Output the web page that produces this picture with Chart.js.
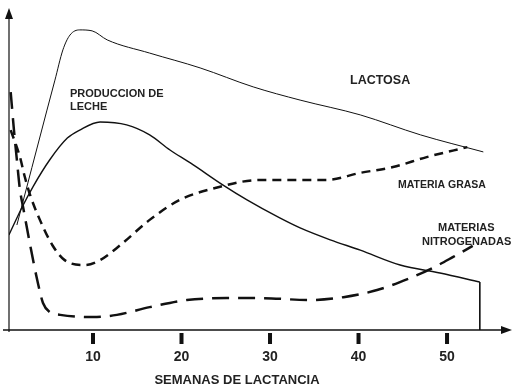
<!DOCTYPE html>
<html>
<head>
<meta charset="utf-8">
<script src="https://cdn.jsdelivr.net/npm/chart.js@4"></script>
<style>
  html, body { margin: 0; padding: 0; background: #fff; }
  #wrap { width: 526px; height: 391px; }
</style>
</head>
<body>
<div id="wrap"><canvas id="myChart" width="526" height="391"></canvas></div>
<script>
// semanas de lactancia / valores relativos (0-100)
const weeksLactosa = [1.4, 4.8, 5.7, 6.6, 7.4, 8.5, 9.9, 11.6, 16.4, 22.1, 28.1, 33.4, 40.2, 47.0, 54.1];
const lactosa      = [32.6, 68.3, 77.6, 87.0, 91.6, 93.2, 92.9, 90.1, 86.0, 81.4, 75.5, 71.4, 66.8, 60.6, 55.3];

const weeksLeche = [0.5, 2.0, 3.2, 5.1, 7.1, 8.5, 10.8, 13.8, 16.4, 18.7, 21.0, 24.7, 27.4, 31.1, 33.4, 36.8, 40.2, 44.7, 49.2, 53.7];
const leche      = [29.5, 38.2, 44.4, 52.8, 59.6, 62.1, 64.6, 63.7, 60.6, 55.9, 51.9, 45.0, 40.4, 34.8, 31.7, 28.0, 24.8, 20.2, 17.7, 14.9];

const weeksGrasa = [0.7, 1.75, 2.3, 2.9, 4.0, 5.4, 6.8, 9.1, 10.8, 13.1, 16.4, 19.8, 23.8, 28.9, 33.4, 36.4, 40.2, 43.9, 47.7, 52.3];
const grasa      = [62.1, 53.7, 47.5, 41.9, 34.2, 26.4, 21.7, 20.2, 21.7, 26.4, 34.2, 40.4, 44.1, 46.6, 46.6, 46.6, 48.8, 50.6, 53.7, 56.8];

const weeksNitro = [0.7, 1.07, 1.4, 1.75, 2.1, 2.9, 3.7, 4.35, 5.1, 6.3, 10.0, 12.7, 16.4, 20.6, 25.1, 28.9, 34.5, 38.3, 42.1, 45.8, 48.4, 50.7, 52.9];
const nitro      = [73.9, 62.1, 52.8, 43.5, 38.2, 26.4, 15.5, 8.4, 5.6, 4.7, 4.0, 4.7, 7.1, 9.3, 9.9, 9.9, 9.3, 10.2, 12.4, 16.1, 19.3, 22.7, 26.1];

// fin de la curva de leche (caída vertical)
const weeksCierre = [53.7, 53.7];
const cierre      = [14.9, 0];

const tickWeeks = [10, 20, 30, 40, 50];

const pts = (xs, ys) => xs.map((x, i) => ({ x: x, y: ys[i] }));

const ink = '#111';

const datasets = [
	{ label: 'LACTOSA', data: pts(weeksLactosa, lactosa), borderColor: ink, borderWidth: 1, cubicInterpolationMode: 'monotone' },
	{ label: 'PRODUCCION DE LECHE', data: pts(weeksLeche, leche), borderColor: ink, borderWidth: 1.4, cubicInterpolationMode: 'monotone' },
	{ label: 'MATERIA GRASA', data: pts(weeksGrasa, grasa), borderColor: ink, borderWidth: 2.5, borderDash: [9, 6], cubicInterpolationMode: 'monotone' },
	{ label: 'MATERIAS NITROGENADAS', data: pts(weeksNitro, nitro), borderColor: ink, borderWidth: 2.5, borderDash: [17, 9], cubicInterpolationMode: 'monotone' },
	{ label: 'cierre', data: pts(weeksCierre, cierre), borderColor: ink, borderWidth: 1, tension: 0 }
];

const decor = {
	id: 'decor',
	afterDraw(chart) {
		const c = chart.ctx;
		const a = chart.chartArea;
		const xs = chart.scales.x;
		c.save();
		c.strokeStyle = ink;
		c.fillStyle = ink;
		// eje y con flecha
		c.lineWidth = 1.2;
		c.beginPath();
		c.moveTo(a.left, a.bottom + 2);
		c.lineTo(a.left, a.top + 6);
		c.stroke();
		c.beginPath();
		c.moveTo(a.left, a.top);
		c.lineTo(a.left - 4, a.top + 11);
		c.lineTo(a.left + 4, a.top + 11);
		c.closePath();
		c.fill();
		// eje x con flecha
		c.lineWidth = 1.5;
		c.beginPath();
		c.moveTo(3, a.bottom);
		c.lineTo(a.right - 6, a.bottom);
		c.stroke();
		c.beginPath();
		c.moveTo(a.right, a.bottom);
		c.lineTo(a.right - 11, a.bottom - 4);
		c.lineTo(a.right - 11, a.bottom + 4);
		c.closePath();
		c.fill();
		// marcas
		tickWeeks.forEach(w => {
			const px = xs.getPixelForValue(w);
			c.fillRect(px - 2, a.bottom + 3, 4, 11);
		});
		// textos
		c.fillStyle = '#222';
		c.textBaseline = 'middle';
		c.textAlign = 'left';
		c.font = 'bold 11px "Liberation Sans", Arial, sans-serif';
		c.fillText('PRODUCCION DE', 70, 94);
		c.fillText('LECHE', 70, 107);
		c.font = 'bold 12.5px "Liberation Sans", Arial, sans-serif';
		c.fillText('LACTOSA', 350, 81);
		c.font = 'bold 10.5px "Liberation Sans", Arial, sans-serif';
		c.fillText('MATERIA GRASA', 398, 185);
		c.font = 'bold 11px "Liberation Sans", Arial, sans-serif';
		c.fillText('MATERIAS', 438, 228);
		c.fillText('NITROGENADAS', 422, 242);
		c.textAlign = 'center';
		c.font = 'bold 13px "Liberation Sans", Arial, sans-serif';
		c.fillText('SEMANAS DE LACTANCIA', 237, 380);
		c.restore();
	}
};

const options = {
	responsive: false,
	animation: false,
	layout: { padding: { left: 9, top: 8, right: 14, bottom: 0 } },
	plugins: {
		legend: { display: false },
		tooltip: { enabled: false }
	},
	elements: { point: { radius: 0 } },
	scales: {
		x: {
			type: 'linear',
			min: 0.51,
			max: 57.34,
			afterBuildTicks: s => { s.ticks = tickWeeks.map(v => ({ value: v })); },
			afterFit: s => { s.height = 61; },
			grid: { display: false },
			border: { display: false },
			ticks: {
				color: '#222',
				padding: 11,
				maxRotation: 0,
				font: { family: '"Liberation Sans", Arial, sans-serif', size: 14, weight: 'bold' }
			}
		},
		y: {
			display: false,
			min: 0,
			max: 100
		}
	}
};

const myChart = new Chart(document.getElementById('myChart'), {
	type: 'scatter',
	data: { datasets },
	options,
	plugins: [decor]
});
myChart.data.datasets.forEach(d => { d.showLine = true; d.fill = false; });
myChart.update();
</script>
</body>
</html>
